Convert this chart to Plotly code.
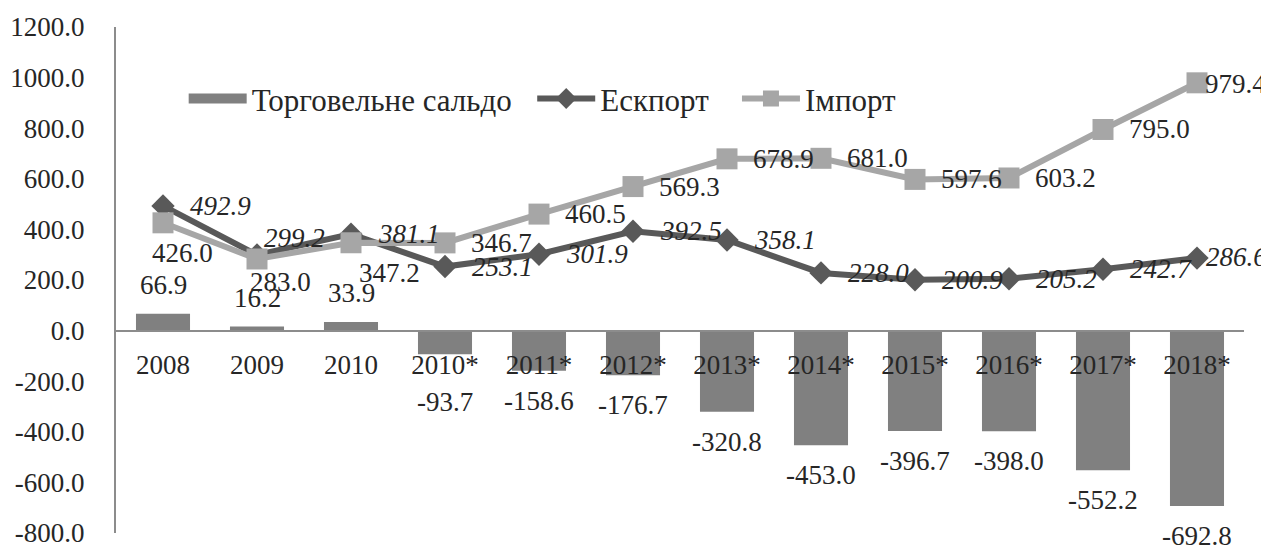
import plotly.graph_objects as go

categories = ["2008", "2009", "2010", "2010*", "2011*", "2012*", "2013*", "2014*",
              "2015*", "2016*", "2017*", "2018*"]
balance = [66.9, 16.2, 33.9, -93.7, -158.6, -176.7, -320.8, -453.0, -396.7, -398.0, -552.2, -692.8]
export = [492.9, 299.2, 381.1, 253.1, 301.9, 392.5, 358.1, 228.0, 200.9, 205.2, 242.7, 286.6]
imports = [426.0, 283.0, 347.2, 346.7, 460.5, 569.3, 678.9, 681.0, 597.6, 603.2, 795.0, 979.4]
y_ticks = [-800, -600, -400, -200, 0, 200, 400, 600, 800, 1000, 1200]

FONT = "Liberation Serif"
TXT = "#262626"
BAR_C = "#808080"
EXP_C = "#595959"
IMP_C = "#a6a6a6"
LBL = 27
NB = "\u00a0"

fig = go.Figure()
# bars (legend entry provided by a wide swatch below)
fig.add_trace(go.Bar(
    x=categories, y=balance, name="Торговельне сальдо", showlegend=False,
    marker=dict(color=BAR_C, line=dict(width=0)), width=0.575,
))
fig.add_trace(go.Scatter(
    x=[None], y=[None], name="Торговельне сальдо" + NB * 2, mode="lines",
    line=dict(color=BAR_C, width=16), hoverinfo="skip",
))
fig.add_trace(go.Scatter(
    x=categories, y=export, name="Ескпорт" + NB * 3, mode="lines+markers",
    line=dict(color=EXP_C, width=6),
    marker=dict(symbol="diamond", size=18, color=EXP_C),
))
fig.add_trace(go.Scatter(
    x=categories, y=imports, name="Імпорт", mode="lines+markers",
    line=dict(color=IMP_C, width=6),
    marker=dict(symbol="square", size=21, color=IMP_C),
))

last = len(categories) - 1
annotations = []
# bar labels
for i, v in enumerate(balance):
    shift = 29 if v >= 0 else -30
    if i == 3:
        shift = -48
    annotations.append(dict(x=i, y=v, text=f"{v:.1f}", showarrow=False,
                            xanchor="center", yanchor="middle", yshift=shift,
                            font=dict(family=FONT, size=LBL, color=TXT)))
# export labels (italic)
for i, v in enumerate(export):
    xs, ys = 25, 0
    if i == 1:
        xs, ys = 5, 17
    if i == last:
        xs, ys = 7, 1
    annotations.append(dict(x=i, y=v, text=f"<i>{v:.1f}</i>", showarrow=False,
                            xanchor="left", yanchor="middle", xshift=xs, yshift=ys,
                            font=dict(family=FONT, size=LBL, color=TXT)))
# import labels
imp_shift = {0: (-13, -30), 1: (-9, -23), 2: (6, -30), last: (6, -1)}
for i, v in enumerate(imports):
    xs, ys = imp_shift.get(i, (24, 0))
    annotations.append(dict(x=i, y=v, text=f"{v:.1f}", showarrow=False,
                            xanchor="left", yanchor="middle", xshift=xs, yshift=ys,
                            font=dict(family=FONT, size=LBL, color=TXT)))

fig.update_layout(
    width=1261, height=547,
    margin=dict(l=116, r=17, t=27, b=14),
    paper_bgcolor="white", plot_bgcolor="white",
    font=dict(family=FONT, size=LBL, color=TXT),
    showlegend=True,
    legend=dict(orientation="h", x=0.06, y=0.858, xanchor="left", yanchor="middle",
                font=dict(family=FONT, size=31, color=TXT), bgcolor="rgba(0,0,0,0)",
                itemwidth=58, tracegroupgap=0),
    annotations=annotations,
    xaxis=dict(
        type="category", anchor="free", position=0.4, automargin=False,
        showline=True, linecolor="#8c8c8c", linewidth=2,
        showgrid=False, ticks="", ticklabelstandoff=10,
        tickfont=dict(family=FONT, size=LBL, color=TXT),
        range=[-0.5, len(categories) - 0.5],
    ),
    yaxis=dict(
        range=[-800, 1200], tickvals=y_ticks,
        ticktext=[f"{t:.1f}" for t in y_ticks], automargin=False,
        ticklabeloverflow="allow",
        showline=True, linecolor="#8c8c8c", linewidth=2,
        showgrid=False, zeroline=False, ticks="", ticklabelstandoff=24,
        tickfont=dict(family=FONT, size=LBL, color=TXT),
    ),
)

fig.write_html("out.html", config={"displayModeBar": False},
               post_script="document.body.style.margin='0';document.body.style.overflow='hidden';")
